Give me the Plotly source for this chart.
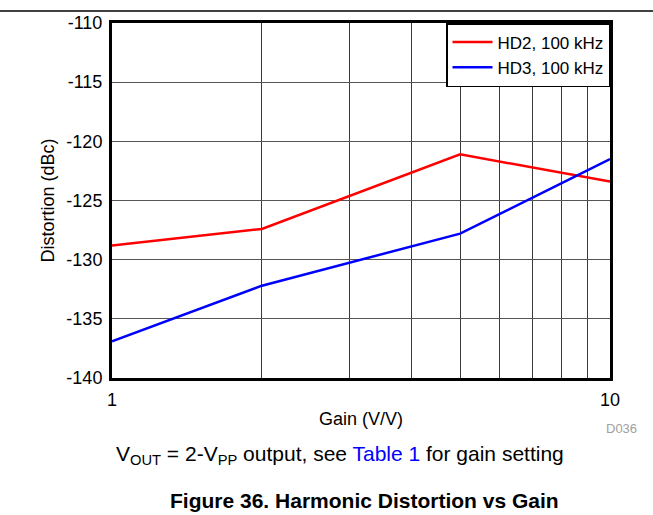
import plotly.graph_objects as go

# Gain settings (V/V) and measured harmonic distortion (dBc)
gain = [1, 2, 5, 10]
hd2_100k = [-128.8, -127.4, -121.1, -123.4]
hd3_100k = [-136.9, -132.2, -127.8, -121.5]

series_names = ["HD2, 100 kHz", "HD3, 100 kHz"]
series_colors = ["#ff0000", "#0000ff"]

x_grid = [1, 2, 3, 4, 5, 6, 7, 8, 9, 10]
x_ticktext = ["1", "", "", "", "", "", "", "", "", "10"]
y_ticks = [-140, -135, -130, -125, -120, -115, -110]
y_ticktext = ["-140", "-135", "-130", "-125", "-120", "-115", "-110"]

FONT = "Liberation Sans, Arial, sans-serif"

fig = go.Figure()
for name, ys, col in zip(series_names, [hd2_100k, hd3_100k], series_colors):
    fig.add_trace(go.Scatter(x=gain, y=ys, mode="lines", name=name,
                             line=dict(color=col, width=2.5)))

fig.update_layout(
    width=653, height=515,
    margin=dict(l=112, r=43, t=23, b=137),
    paper_bgcolor="white", plot_bgcolor="white",
    font=dict(family=FONT, size=18, color="black"),
    showlegend=True,
    legend=dict(x=1, y=1, xanchor="right", yanchor="top",
                bgcolor="white", bordercolor="black", borderwidth=1.5,
                font=dict(size=17), tracegroupgap=0,
                itemwidth=40),
    xaxis=dict(type="log", range=[0, 1],
               tickvals=x_grid, ticktext=x_ticktext,
               showgrid=True, gridcolor="#3c3c3c", gridwidth=1,
               showline=True, linecolor="black", linewidth=3, mirror=True,
               ticks="", ticklabelstandoff=3,
               tickfont=dict(size=18),
               title=dict(text="Gain (V/V)", font=dict(size=18), standoff=4)),
    yaxis=dict(range=[-140, -110], tickvals=y_ticks, ticktext=y_ticktext,
               showgrid=True, gridcolor="#555555", gridwidth=1,
               showline=True, linecolor="black", linewidth=3, mirror=True,
               ticks="", ticklabelstandoff=3,
               tickfont=dict(size=18),
               title=dict(text="Distortion (dBc)", font=dict(size=18), standoff=8)),
)

# rule across the top of the page
fig.add_shape(type="line", xref="paper", yref="paper",
              x0=-112/498, x1=(653-112)/498, y0=1 + 12/355, y1=1 + 12/355,
              line=dict(color="black", width=1.5))

fig.add_annotation(text="D036", xref="paper", yref="paper",
                   x=1 + 29/498, y=-50/355, xanchor="right", yanchor="middle",
                   showarrow=False, font=dict(size=13, color="#a0a0a0"))

fig.add_annotation(
    text="V<sub>OUT</sub> = 2-V<sub>PP</sub> output, see "
         "<span style='color:#0000ff'>Table 1</span> for gain setting",
    xref="paper", yref="paper", x=(340-112)/498, y=-77/355,
    xanchor="center", yanchor="middle", showarrow=False,
    font=dict(size=21, color="black"))

fig.add_annotation(
    text="<b>Figure 36. Harmonic Distortion vs Gain</b>",
    xref="paper", yref="paper", x=(364-112)/498, y=-122/355,
    xanchor="center", yanchor="middle", showarrow=False,
    font=dict(size=21, color="black"))

fig.write_html("out.html")
